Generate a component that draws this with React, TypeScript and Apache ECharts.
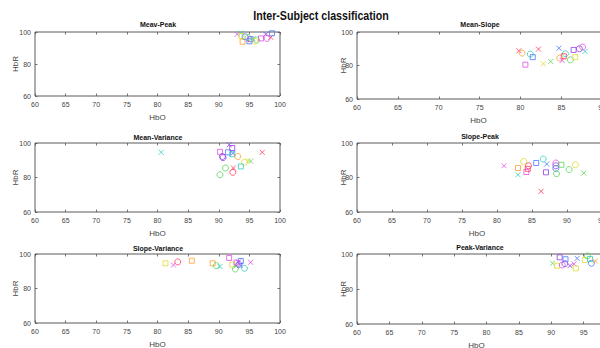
import React, { useEffect, useRef } from "react";
import * as echarts from "echarts";

// Marker colours by subject index
const COLORS = ["#ff3b5c", "#ffa030", "#e0dc30", "#5ad65a", "#30d0c0", "#4a78ff", "#8f3fe6", "#e650e6"];

const X_TICKS = [60, 65, 70, 75, 80, 85, 90, 95, 100];
const Y_TICKS = [60, 80, 100];

// [HbO, HbR, colour index, marker] ; s = square, o = circle, x = cross
type Pt = [number, number, number, string];

const meavPeak: Pt[] = [
  [93.0, 98.6, 7, "x"], [93.6, 99.3, 4, "x"], [93.9, 93.9, 1, "s"], [93.7, 97.5, 2, "s"],
  [94.3, 97.0, 5, "o"], [94.8, 96.5, 3, "o"], [95.0, 94.2, 5, "s"], [95.2, 95.5, 6, "s"],
  [95.6, 95.8, 4, "x"], [96.2, 95.0, 3, "o"], [96.9, 96.0, 7, "s"], [97.7, 98.6, 6, "x"],
  [97.9, 96.0, 7, "o"], [98.5, 96.7, 0, "x"], [98.7, 99.2, 5, "s"], [95.9, 94.3, 2, "o"],
];

const meanSlope: Pt[] = [
  [79.8, 88.8, 0, "x"], [80.2, 87.4, 1, "o"], [80.6, 80.5, 7, "s"], [81.2, 86.8, 4, "o"],
  [81.5, 85.0, 5, "s"], [82.2, 89.8, 0, "x"], [82.8, 81.0, 2, "x"], [83.7, 82.4, 3, "x"],
  [84.7, 90.3, 5, "x"], [84.8, 84.4, 1, "o"], [85.1, 83.0, 7, "x"], [85.5, 87.0, 4, "o"],
  [86.1, 83.4, 3, "o"], [86.7, 85.0, 2, "s"], [86.5, 89.3, 6, "s"], [87.2, 90.0, 6, "o"],
  [87.6, 91.0, 7, "o"], [87.9, 88.4, 4, "x"], [85.3, 85.5, 0, "s"],
];

const meanVariance: Pt[] = [
  [80.6, 94.6, 4, "x"], [90.2, 94.9, 7, "s"], [90.6, 92.2, 6, "o"], [90.7, 91.5, 6, "o"],
  [91.7, 99.0, 6, "x"], [91.5, 94.6, 5, "s"], [92.2, 93.5, 4, "s"], [92.3, 94.0, 5, "x"],
  [92.2, 97.1, 6, "s"], [93.1, 92.2, 1, "o"], [97.1, 94.6, 0, "x"], [94.2, 88.8, 2, "o"],
  [94.8, 89.7, 2, "x"], [95.2, 89.5, 3, "x"], [93.6, 86.4, 4, "s"], [91.1, 85.5, 3, "o"],
  [90.2, 81.6, 3, "o"], [92.4, 85.5, 0, "x"], [92.3, 83.0, 0, "o"],
];

const slopePeak: Pt[] = [
  [81.0, 86.8, 7, "x"], [83.0, 81.6, 4, "x"], [83.0, 85.5, 1, "s"], [83.8, 89.3, 2, "o"],
  [84.2, 83.2, 7, "s"], [84.5, 86.8, 0, "o"], [84.4, 85.0, 0, "s"], [85.6, 88.4, 5, "s"],
  [86.6, 90.7, 4, "o"], [87.1, 87.8, 5, "x"], [87.0, 83.0, 6, "s"], [88.4, 88.4, 7, "o"],
  [88.4, 86.8, 6, "o"], [88.4, 85.2, 5, "o"], [86.3, 72.0, 0, "x"], [88.5, 82.2, 3, "o"],
  [89.2, 87.4, 3, "s"], [90.3, 84.6, 3, "o"], [91.2, 87.4, 2, "o"], [92.4, 82.5, 3, "x"],
];

const slopeVariance: Pt[] = [
  [81.3, 94.6, 2, "s"], [82.6, 93.6, 7, "x"], [83.3, 95.4, 0, "o"], [85.6, 96.1, 1, "s"],
  [89.0, 94.6, 1, "s"], [89.6, 93.3, 3, "o"], [90.2, 92.7, 4, "x"], [91.7, 97.7, 7, "s"],
  [92.2, 93.9, 2, "s"], [92.7, 91.3, 3, "o"], [92.8, 93.0, 3, "x"], [93.2, 95.4, 6, "x"],
  [93.6, 96.0, 5, "s"], [93.3, 94.0, 6, "o"], [93.5, 93.5, 5, "x"], [94.2, 91.7, 4, "o"],
  [95.2, 95.2, 7, "x"], [92.9, 95.0, 7, "s"],
];

const peakVariance: Pt[] = [
  [90.2, 94.7, 3, "x"], [90.9, 93.3, 2, "s"], [91.3, 98.1, 6, "s"], [92.2, 97.0, 5, "s"],
  [91.7, 93.7, 7, "o"], [92.1, 94.5, 6, "o"], [92.9, 93.3, 6, "x"], [93.5, 94.3, 7, "x"],
  [93.8, 91.8, 2, "s"], [94.0, 97.5, 5, "x"], [95.2, 96.6, 2, "s"], [95.6, 98.9, 3, "o"],
  [96.0, 97.1, 4, "s"], [96.2, 94.7, 5, "o"], [96.8, 96.0, 1, "x"],
];

const MAIN_TITLE = "Inter-Subject classification";
const X_NAME = "HbO";
const Y_NAME = "HbR";

// right column panels run past the page edge (cropped like the reference)
// xShift: how far the x-axis name sits left of the (uncropped) grid centre
const PANELS = [
  { title: "Meav-Peak", data: meavPeak, grid: { left: 35, top: 32, width: 245, height: 64 }, tx: 158, ty: 24, yGap: 16, xShift: 0 },
  { title: "Mean-Slope", data: meanSlope, grid: { left: 357, top: 32, width: 327, height: 67 }, tx: 480, ty: 24, yGap: 10, xShift: 42 },
  { title: "Mean-Variance", data: meanVariance, grid: { left: 35, top: 143, width: 245, height: 69 }, tx: 158, ty: 137, yGap: 16, xShift: 0 },
  { title: "Slope-Peak", data: slopePeak, grid: { left: 357, top: 143, width: 280, height: 69 }, tx: 480, ty: 136, yGap: 10, xShift: 20 },
  { title: "Slope-Variance", data: slopeVariance, grid: { left: 35, top: 254, width: 245, height: 69 }, tx: 158, ty: 248, yGap: 16, xShift: 0 },
  { title: "Peak-Variance", data: peakVariance, grid: { left: 357, top: 254, width: 259, height: 70 }, tx: 480, ty: 247, yGap: 10, xShift: 10 },
];

const FONT = "Liberation Sans";
const CROSS = "path://M0,0L10,10M10,0L0,10";

function symbolOf(m: string) {
  if (m === "s") return "rect";
  if (m === "o") return "circle";
  return CROSS;
}
function sizeOf(m: string) {
  if (m === "s") return 5;
  if (m === "o") return 6;
  return 5;
}

export default function App() {
  const ref = useRef<HTMLDivElement>(null);
  useEffect(() => {
    document.body.style.margin = "0";
    if (!ref.current) return;
    const chart = echarts.init(ref.current, undefined, { renderer: "svg" });

    const grids: any[] = [];
    const xAxes: any[] = [];
    const yAxes: any[] = [];
    const series: any[] = [];
    const graphics: any[] = [];

    const tickStyle = { inside: true, length: 2.5, lineStyle: { color: "#555", width: 0.8 } };
    const lineStyle = { show: false };

    PANELS.forEach((p, i) => {
      grids.push({
        ...p.grid, outerBoundsMode: "none", containLabel: false,
        show: true, borderColor: "#5a5a5a", borderWidth: 1, backgroundColor: "#fff",
      });
      const xBase = {
        type: "value", gridIndex: i, min: X_TICKS[0], max: X_TICKS[X_TICKS.length - 1],
        interval: X_TICKS[1] - X_TICKS[0], splitLine: { show: false }, axisLine: lineStyle, axisTick: tickStyle,
      };
      xAxes.push({
        ...xBase, position: "bottom",
        axisLabel: { fontFamily: FONT, fontSize: 7, color: "#444", margin: 5, showMinLabel: true, showMaxLabel: true },
        name: X_NAME, nameLocation: "middle", nameGap: 17, nameMoveOverlap: false,
        nameTextStyle: { fontFamily: FONT, fontSize: 8, color: "#444", padding: [0, 2 * p.xShift, 0, 0] },
      });
      xAxes.push({ ...xBase, position: "top", axisLabel: { show: false } });
      const yBase = {
        type: "value", gridIndex: i, min: Y_TICKS[0], max: Y_TICKS[Y_TICKS.length - 1],
        interval: Y_TICKS[1] - Y_TICKS[0], splitLine: { show: false }, axisLine: lineStyle, axisTick: tickStyle,
      };
      yAxes.push({
        ...yBase, position: "left",
        axisLabel: { fontFamily: FONT, fontSize: 7, color: "#444", margin: 4 },
        name: Y_NAME, nameLocation: "middle", nameGap: p.yGap, nameRotate: 90, nameMoveOverlap: false,
        nameTextStyle: { fontFamily: FONT, fontSize: 8, color: "#444" },
      });
      yAxes.push({ ...yBase, position: "right", axisLabel: { show: false } });

      series.push({
        type: "scatter",
        xAxisIndex: 2 * i,
        yAxisIndex: 2 * i,
        data: p.data.map((d) => ({
          value: [d[0], d[1]],
          symbol: symbolOf(d[3]),
          symbolSize: sizeOf(d[3]),
          itemStyle: { color: "rgba(0,0,0,0)", borderColor: COLORS[d[2]], borderWidth: 1 },
        })),
      });

      graphics.push({
        type: "text", x: p.tx, y: p.ty,
        style: { text: p.title, align: "center", verticalAlign: "middle", font: `bold 7px "${FONT}"`, fill: "#111" },
      });
    });

    graphics.push({
      type: "text", x: 321, y: 16, scaleX: 0.82,
      style: { text: MAIN_TITLE, align: "center", verticalAlign: "middle", font: `bold 13px "${FONT}"`, fill: "#111" },
    });

    chart.setOption({
      animation: false,
      backgroundColor: "#fff",
      grid: grids,
      xAxis: xAxes,
      yAxis: yAxes,
      series,
      graphic: graphics,
    });
    return () => chart.dispose();
  }, []);
  return <div ref={ref} style={{ width: 600, height: 348 }} />;
}
